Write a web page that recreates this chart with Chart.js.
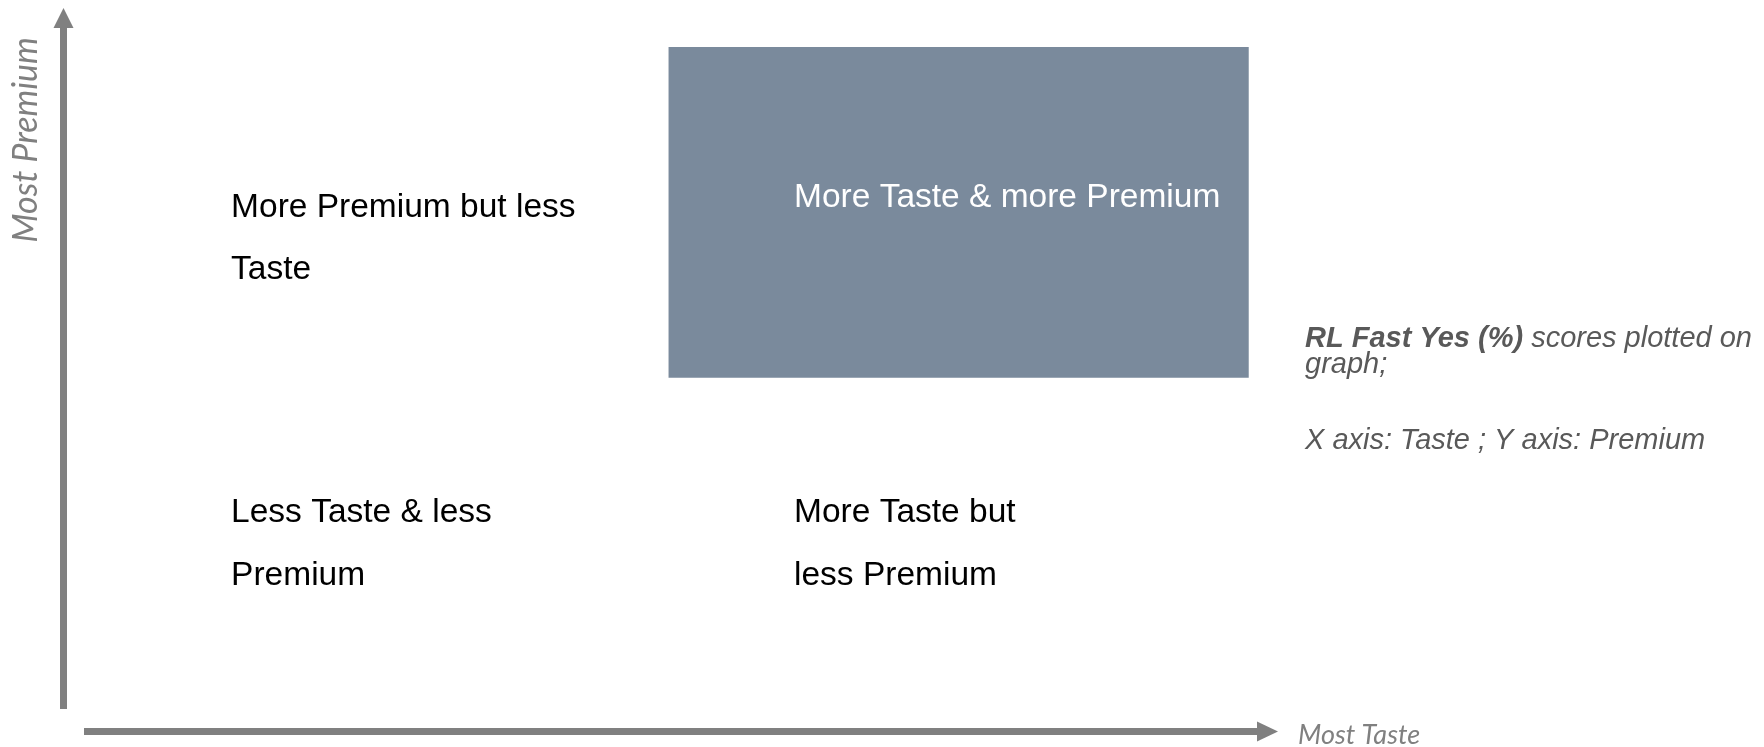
<!DOCTYPE html>
<html>
<head>
<meta charset="utf-8">
<title>Taste vs Premium</title>
<script src="https://cdn.jsdelivr.net/npm/chart.js"></script>
<style>
  html, body { margin: 0; padding: 0; background: #ffffff; }
  #wrap { width: 1764px; height: 747px; position: relative; }
</style>
</head>
<body>
<div id="wrap"><canvas id="quadChart"></canvas></div>
<script>
// axis ranges (0-100 on both)
const xRange = [0, 100];
const yRange = [0, 100];

// highlighted quadrant box: taste from/to, premium from/to
const boxTaste = [49.8, 97.6];
const boxPremium = [48.9, 94.6];

// quadrant captions, each line with its anchor (taste, premium)
const quadLines = ['More Premium but less', 'Taste', 'Less Taste & less', 'Premium', 'More Taste but', 'less Premium'];
const quadTaste = [13.8, 13.8, 13.8, 13.8, 60.15, 60.15];
const quadPremium = [71.1, 62.6, 28.9, 20.3, 28.9, 20.3];

const boxCaption = 'More Taste & more Premium';
const boxCaptionAt = [60.15, 72.5];

const xAxisTitle = 'Most Taste';
const yAxisTitle = 'Most Premium';
const noteBold = 'RL Fast Yes (%)';
const noteLines = [' scores plotted on', 'graph;', '', 'X axis: Taste ; Y axis: Premium'];

const GREY = '#808080';

// arrows + captions, drawn on top of the library's scales
const quadPlugin = {
    id: 'quadPlugin',
    afterDatasetsDraw(chart) {
        const ctx = chart.ctx;
        const xs = chart.scales.x, ys = chart.scales.y;
        const x0 = xs.getPixelForValue(xRange[0]);
        const x1 = xs.getPixelForValue(xRange[1]);
        const y0 = ys.getPixelForValue(yRange[0]);
        const y1 = ys.getPixelForValue(yRange[1]);

        ctx.save();
        ctx.fillStyle = GREY;
        // y axis arrow
        ctx.fillRect(x0 - 3.5, y1 + 19, 7, 709 - (y1 + 19));
        ctx.beginPath();
        ctx.moveTo(x0, y1);
        ctx.lineTo(x0 + 10, y1 + 20);
        ctx.lineTo(x0 - 10, y1 + 20);
        ctx.closePath();
        ctx.fill();
        // x axis arrow
        ctx.fillRect(84, y0 - 3.5, x1 - 21 - 84 + 1, 7);
        ctx.beginPath();
        ctx.moveTo(x1, y0);
        ctx.lineTo(x1 - 21, y0 - 10);
        ctx.lineTo(x1 - 21, y0 + 10);
        ctx.closePath();
        ctx.fill();

        // axis titles
        ctx.font = 'italic 27px Lato';
        ctx.textAlign = 'left';
        ctx.textBaseline = 'alphabetic';
        ctx.fillText(xAxisTitle, x1 + 20, 744);
        ctx.save();
        ctx.translate(37, 140);
        ctx.rotate(-Math.PI / 2);
        ctx.font = 'italic 34px Lato';
        ctx.textAlign = 'center';
        ctx.fillText(yAxisTitle, 0, 0);
        ctx.restore();

        // quadrant captions
        ctx.font = '33.5px "Liberation Sans", Arial, sans-serif';
        ctx.textAlign = 'left';
        ctx.fillStyle = '#000000';
        quadLines.forEach((t, i) => {
            ctx.fillText(t, xs.getPixelForValue(quadTaste[i]), ys.getPixelForValue(quadPremium[i]));
        });
        ctx.fillStyle = '#ffffff';
        ctx.fillText(boxCaption, xs.getPixelForValue(boxCaptionAt[0]), ys.getPixelForValue(boxCaptionAt[1]));

        // side note
        const nx = 1305;
        ctx.fillStyle = '#595959';
        ctx.font = 'italic bold 29px "Liberation Sans", Arial, sans-serif';
        ctx.fillText(noteBold, nx, 347);
        const bw = ctx.measureText(noteBold).width;
        ctx.font = 'italic 29px "Liberation Sans", Arial, sans-serif';
        ctx.fillText(noteLines[0], nx + bw, 347);
        ctx.fillText(noteLines[1], nx, 373);
        ctx.fillText(noteLines[3], nx, 449);
        ctx.restore();
    }
};

new Chart(document.getElementById('quadChart'), {
    type: 'scatter',
    data: {
        datasets: [{
            type: 'line',
            label: 'More Taste & more Premium',
            data: [
                { x: boxTaste[0], y: boxPremium[1] },
                { x: boxTaste[1], y: boxPremium[1] }
            ],
            borderWidth: 0,
            borderColor: 'rgba(0,0,0,0)',
            backgroundColor: '#7a8a9c',
            pointRadius: 0,
            fill: { value: boxPremium[0] }
        }]
    },
    options: {
        responsive: true,
        maintainAspectRatio: false,
        animation: false,
        layout: { padding: { left: 63.5, right: 486, top: 8, bottom: 15.5 } },
        scales: {
            x: { type: 'linear', min: xRange[0], max: xRange[1], display: false },
            y: { type: 'linear', min: yRange[0], max: yRange[1], display: false }
        },
        plugins: {
            legend: { display: false },
            tooltip: { enabled: false }
        }
    },
    plugins: [quadPlugin]
});
</script>
</body>
</html>
